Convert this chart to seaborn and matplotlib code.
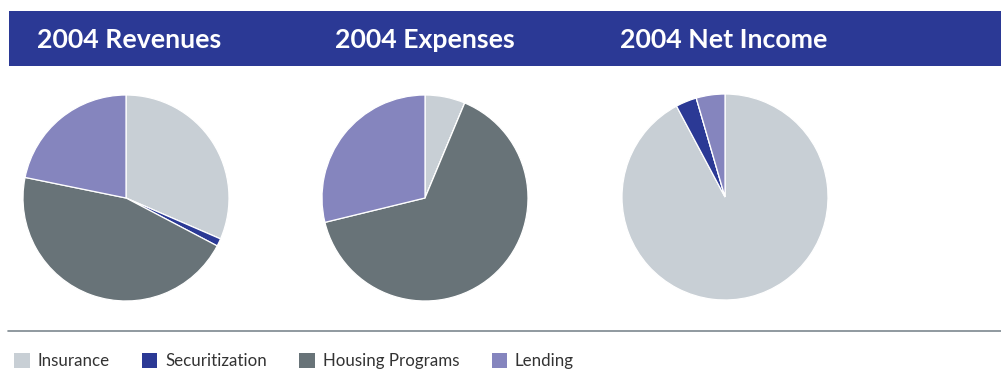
import matplotlib
matplotlib.use("Agg")
import matplotlib.pyplot as plt
from matplotlib.patches import Rectangle, Patch
from matplotlib.lines import Line2D
import seaborn as sns

# Segment shares (percent) for each 2004 breakdown
segments = ["Insurance", "Securitization", "Housing Programs", "Lending"]
revenues = [31.5, 1.2, 45.5, 21.8]
expenses = [6.3, 0.0, 64.9, 28.8]
net_income = [92.2, 3.3, 0.0, 4.5]
titles = ["2004 Revenues", "2004 Expenses", "2004 Net Income"]

sns.set_theme(style="white")
plt.rcParams["font.family"] = ["Lato", "DejaVu Sans"]

palette = sns.color_palette(["#c8cfd5", "#2b3995", "#687378", "#8585be"])
header_blue = "#2b3995"

W, H = 1001, 386
fig = plt.figure(figsize=(W / 100, H / 100), dpi=100)
fig.patch.set_facecolor("white")

# Title band
fig.patches.append(Rectangle((9 / W, 1 - 66 / H), (W - 9) / W, 55 / H,
                             transform=fig.transFigure, facecolor=header_blue,
                             edgecolor="none", zorder=0))

title_x = [37, 335, 620]
for tx, t in zip(title_x, titles):
    fig.text(tx / W, 1 - 40 / H, t, color="white", fontsize=19.2,
             fontweight="bold", ha="left", va="center")

# Pies: centre (px) and radius (px)
centres = [(126, 198), (425, 198), (725, 197)]
radius = 103
for (cx, cy), vals in zip(centres, [revenues, expenses, net_income]):
    ax = fig.add_axes([(cx - radius) / W, (H - cy - radius) / H,
                       2 * radius / W, 2 * radius / H])
    ax.pie(vals, colors=palette, startangle=90, counterclock=False,
           radius=1.0, wedgeprops=dict(edgecolor="white", linewidth=0.9))
    ax.set_xlim(-1.0, 1.0)
    ax.set_ylim(-1.0, 1.0)
    ax.set_aspect("equal")
    ax.axis("off")

# Divider rule above the legend
fig.lines.append(Line2D([8 / W, 1.0], [1 - 331 / H, 1 - 331 / H],
                        transform=fig.transFigure, color="#7d888f", lw=1.2))

fs = 12.2
handles = [Patch(facecolor=c, edgecolor="none", label=s)
           for c, s in zip(palette, segments)]
fig.legend(handles=handles, loc="center left",
           bbox_to_anchor=(14 / W, 1 - 361 / H), ncol=4, frameon=False,
           fontsize=fs, handlelength=0.92, handleheight=0.95,
           handletextpad=0.45, columnspacing=1.92, borderpad=0,
           borderaxespad=0, labelcolor="#333333")

fig.savefig("out.png", dpi=100)
